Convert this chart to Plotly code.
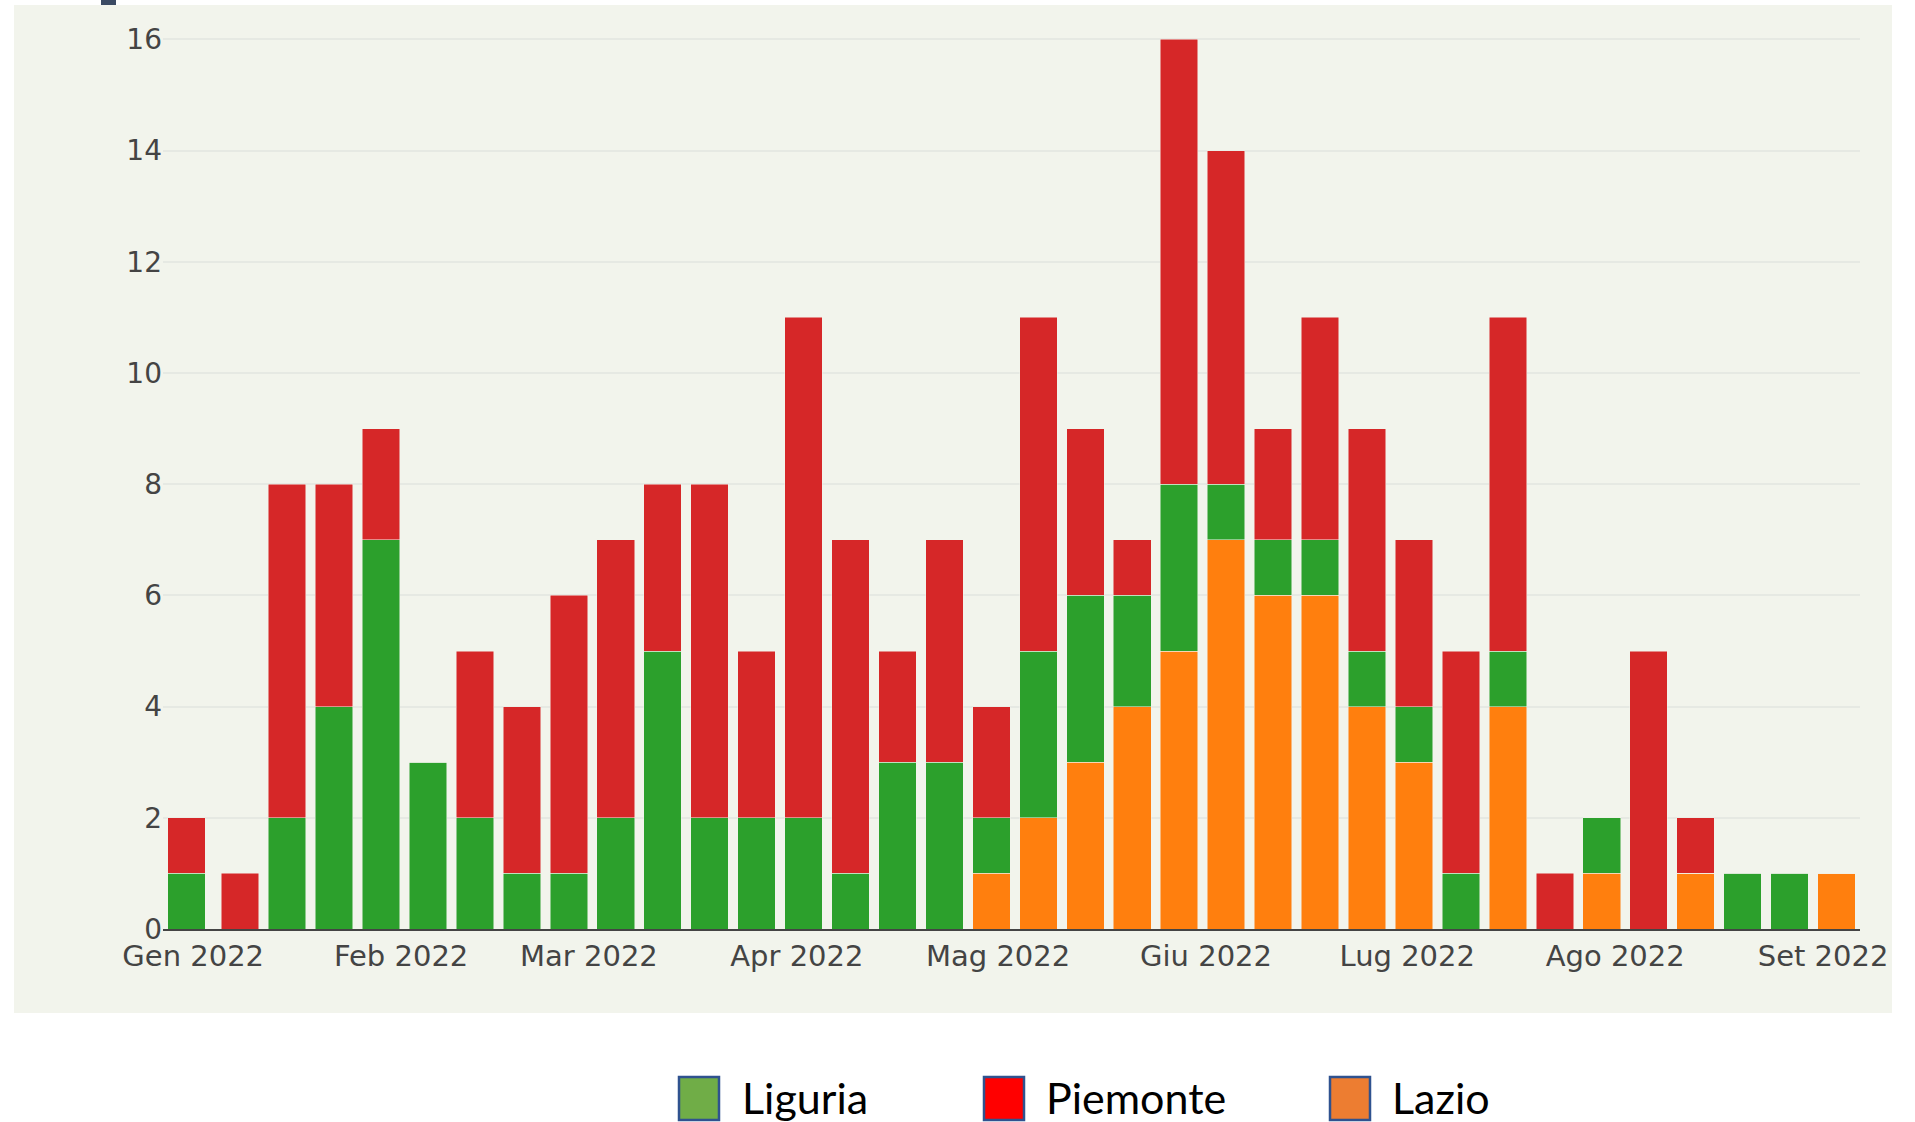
import plotly.graph_objects as go

# ---- data ----
dates = [
    "2021-12-31", "2022-01-08", "2022-01-15", "2022-01-22", "2022-01-29",
    "2022-02-05", "2022-02-12", "2022-02-19", "2022-02-26", "2022-03-05",
    "2022-03-12", "2022-03-19", "2022-03-26", "2022-04-02", "2022-04-09",
    "2022-04-16", "2022-04-23", "2022-04-30", "2022-05-07", "2022-05-14",
    "2022-05-21", "2022-05-28", "2022-06-04", "2022-06-11", "2022-06-18",
    "2022-06-25", "2022-07-02", "2022-07-09", "2022-07-16", "2022-07-23",
    "2022-07-30", "2022-08-06", "2022-08-13", "2022-08-20", "2022-08-27",
    "2022-09-03",
]
lazio = [0, 0, 0, 0, 0, 0, 0, 0, 0, 0, 0, 0, 0, 0, 0, 0, 0,
         1, 2, 3, 4, 5, 7, 6, 6, 4, 3, 0, 4, 0, 1, 0, 1, 0, 0, 1]
liguria = [1, 0, 2, 4, 7, 3, 2, 1, 1, 2, 5, 2, 2, 2, 1, 3, 3,
           1, 3, 3, 2, 3, 1, 1, 1, 1, 1, 1, 1, 0, 1, 0, 0, 1, 1, 0]
piemonte = [1, 1, 6, 4, 2, 0, 3, 3, 5, 5, 3, 6, 3, 9, 6, 2, 4,
            2, 6, 3, 1, 8, 6, 2, 4, 4, 3, 4, 6, 1, 0, 5, 1, 0, 0, 0]

month_ticks = ["2022-01-01", "2022-02-01", "2022-03-01", "2022-04-01", "2022-05-01",
               "2022-06-01", "2022-07-01", "2022-08-01", "2022-09-01"]
month_labels = ["Gen 2022", "Feb 2022", "Mar 2022", "Apr 2022", "Mag 2022",
                "Giu 2022", "Lug 2022", "Ago 2022", "Set 2022"]
y_ticks = [0, 2, 4, 6, 8, 10, 12, 14, 16]

legend_names = ["Liguria", "Piemonte", "Lazio"]
legend_colors = ["#70ad47", "#ff0000", "#ed7d31"]

# ---- layout geometry (pixels) ----
W, H = 1915, 1122
L, R, T, B = 163, 1860, 5, 929
BG = "#f2f4ec"


def px_x(x):
    return (x - L) / (R - L)


def px_y(y):
    return (B - y) / (B - T)


fig = go.Figure()
bar_line = dict(color=BG, width=0.5)
fig.add_trace(go.Bar(x=dates, y=lazio, name="Lazio", marker=dict(color="#ff7f0e", line=bar_line), showlegend=False))
fig.add_trace(go.Bar(x=dates, y=liguria, name="Liguria", marker=dict(color="#2ca02c", line=bar_line), showlegend=False))
fig.add_trace(go.Bar(x=dates, y=piemonte, name="Piemonte", marker=dict(color="#d62728", line=bar_line), showlegend=False))

shapes = [
    # greenish panel background
    dict(type="rect", xref="paper", yref="paper", layer="below",
         x0=px_x(14), x1=px_x(1892), y0=px_y(1013), y1=px_y(5),
         fillcolor=BG, line=dict(width=0)),
    # small dark mark at top-left
    dict(type="rect", xref="paper", yref="paper",
         x0=px_x(101), x1=px_x(116), y0=px_y(5), y1=px_y(0),
         fillcolor="#3b4a63", line=dict(width=0)),
]
annotations = []
sq_x = [679, 984, 1330]
tx_x = [740, 1044, 1390]
for nm, col, sx, tx in zip(legend_names, legend_colors, sq_x, tx_x):
    shapes.append(dict(type="rect", xref="paper", yref="paper",
                       x0=px_x(sx), x1=px_x(sx + 40), y0=px_y(1120), y1=px_y(1077),
                       fillcolor=col, line=dict(color="#2f528f", width=2.5)))
    annotations.append(dict(xref="paper", yref="paper", x=px_x(tx), y=px_y(1097),
                            xanchor="left", yanchor="middle", showarrow=False,
                            text=nm, font=dict(family="Lato, sans-serif", size=43, color="#000000")))

fig.update_layout(
    width=W, height=H,
    margin=dict(l=L, r=W - R, t=T, b=H - B, pad=0),
    paper_bgcolor="white",
    plot_bgcolor=BG,
    barmode="stack",
    bargap=0.2,
    showlegend=False,
    shapes=shapes,
    annotations=annotations,
    font=dict(family="DejaVu Sans, Verdana, sans-serif", size=28, color="#444"),
    xaxis=dict(
        type="date",
        range=["2021-12-27 12:00", "2022-09-06 12:00"],
        tickvals=month_ticks, ticktext=month_labels,
        tickfont=dict(size=29),
        showgrid=False, showline=True, linecolor="#444", linewidth=2,
        layer="below traces", ticks="", zeroline=False,
    ),
    yaxis=dict(
        range=[0, (B - T) / 55.6],
        tickvals=y_ticks,
        showgrid=True, gridcolor="#e6e9e3", gridwidth=2,
        zeroline=False, showline=False, ticks="",
    ),
)

fig.write_html(
    "out.html",
    config={"displayModeBar": False},
    post_script="document.body.style.margin='0';document.body.style.padding='0';",
)
